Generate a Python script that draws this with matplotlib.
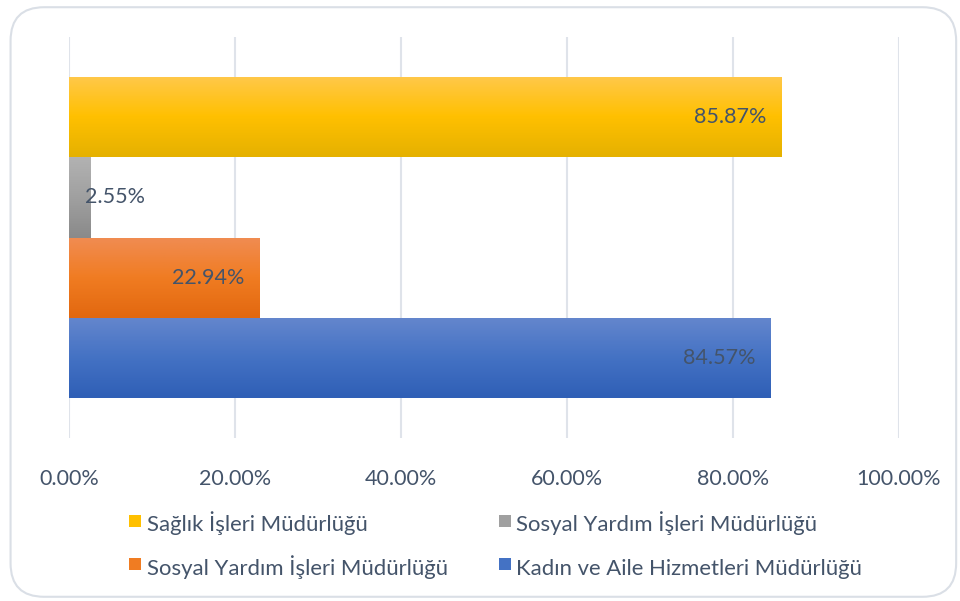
import matplotlib.pyplot as plt
import numpy as np
from matplotlib.colors import LinearSegmentedColormap
from matplotlib.patches import FancyBboxPatch
from matplotlib.lines import Line2D

plt.rcParams['font.family'] = ['Lato', 'DejaVu Sans']

# bottom to top
labels = ["Kadın ve Aile Hizmetleri Müdürlüğü", "Sosyal Yardım İşleri Müdürlüğü",
          "Sosyal Yardım İşleri Müdürlüğü", "Sağlık İşleri Müdürlüğü"]
values = [84.57, 22.94, 2.55, 85.87]
# top, middle, bottom colour of each bar's gradient
grads = [("#6486cd", "#4472c4", "#2f5fb6"),
         ("#f08c52", "#f07c22", "#e2680f"),
         ("#b2b2b2", "#a0a0a0", "#8a8a8a"),
         ("#ffc84a", "#ffc000", "#e5b100")]
xticks = [0, 20, 40, 60, 80, 100]
text_col = "#44546a"

fig = plt.figure(figsize=(9.6, 6.01), dpi=100)
frame = FancyBboxPatch((0.011, 0.007), 0.985, 0.981, boxstyle="round,pad=0,rounding_size=0.035",
                       transform=fig.transFigure, facecolor="white",
                       edgecolor="#dadfe6", linewidth=1.5, mutation_aspect=960 / 601, zorder=-1)
fig.patches.append(frame)
ax = fig.add_axes([0.0719, 0.2712, 0.8646, 0.6672])
ax.set_facecolor("none")

bars = ax.barh(range(len(values)), values, height=1.0, color="none", zorder=2)
for b, g in zip(bars, grads):
    cmap = LinearSegmentedColormap.from_list("g", [g[2], g[1], g[0]])
    grad = np.linspace(0, 1, 64).reshape(-1, 1)
    x0, y0 = b.get_x(), b.get_y()
    im = ax.imshow(grad, cmap=cmap, aspect="auto", origin="lower",
                   extent=[x0, x0 + b.get_width(), y0, y0 + b.get_height()], zorder=2)
    im.set_clip_path(b)

for i, v in enumerate(values):
    if v > 10:
        ax.annotate(f"{v:.2f}%", (v, i), xytext=(-11, 0), textcoords="offset points",
                    ha="right", va="center", fontsize=15.5, color=text_col, zorder=3)
    else:
        ax.annotate(f"{v:.2f}%", (0, i), xytext=(11.5, 0), textcoords="offset points",
                    ha="left", va="center", fontsize=15.5, color=text_col, zorder=3)

ax.set_xlim(0, 100)
ax.set_ylim(-1, 4)
ax.set_xticks(xticks)
ax.set_xticklabels([f"{t:.2f}%" for t in xticks], fontsize=15.5, color=text_col)
ax.set_yticks([])
ax.tick_params(axis="x", length=0, pad=22)
ax.grid(axis="x", color="#dfe3ea", linewidth=1.5, zorder=0)
ax.set_axisbelow(True)
for s in ax.spines.values():
    s.set_visible(False)

# legend: row-major order in the picture, matplotlib fills by column
order = [3, 1, 2, 0]
handles = [Line2D([], [], linestyle="none", marker="s", markersize=8.5,
                  markerfacecolor=grads[k][1], markeredgewidth=0) for k in order]
names = [labels[k] for k in order]
ax.legend(handles, names, ncol=2, frameon=False, loc="center",
          bbox_to_anchor=(0.516, 0.092), bbox_transform=fig.transFigure,
          fontsize=15.9, labelcolor=text_col, handlelength=0.6, handleheight=1.5,
          handletextpad=0.2, columnspacing=2.3, labelspacing=0.76)

fig.savefig("out.png", dpi=100)
